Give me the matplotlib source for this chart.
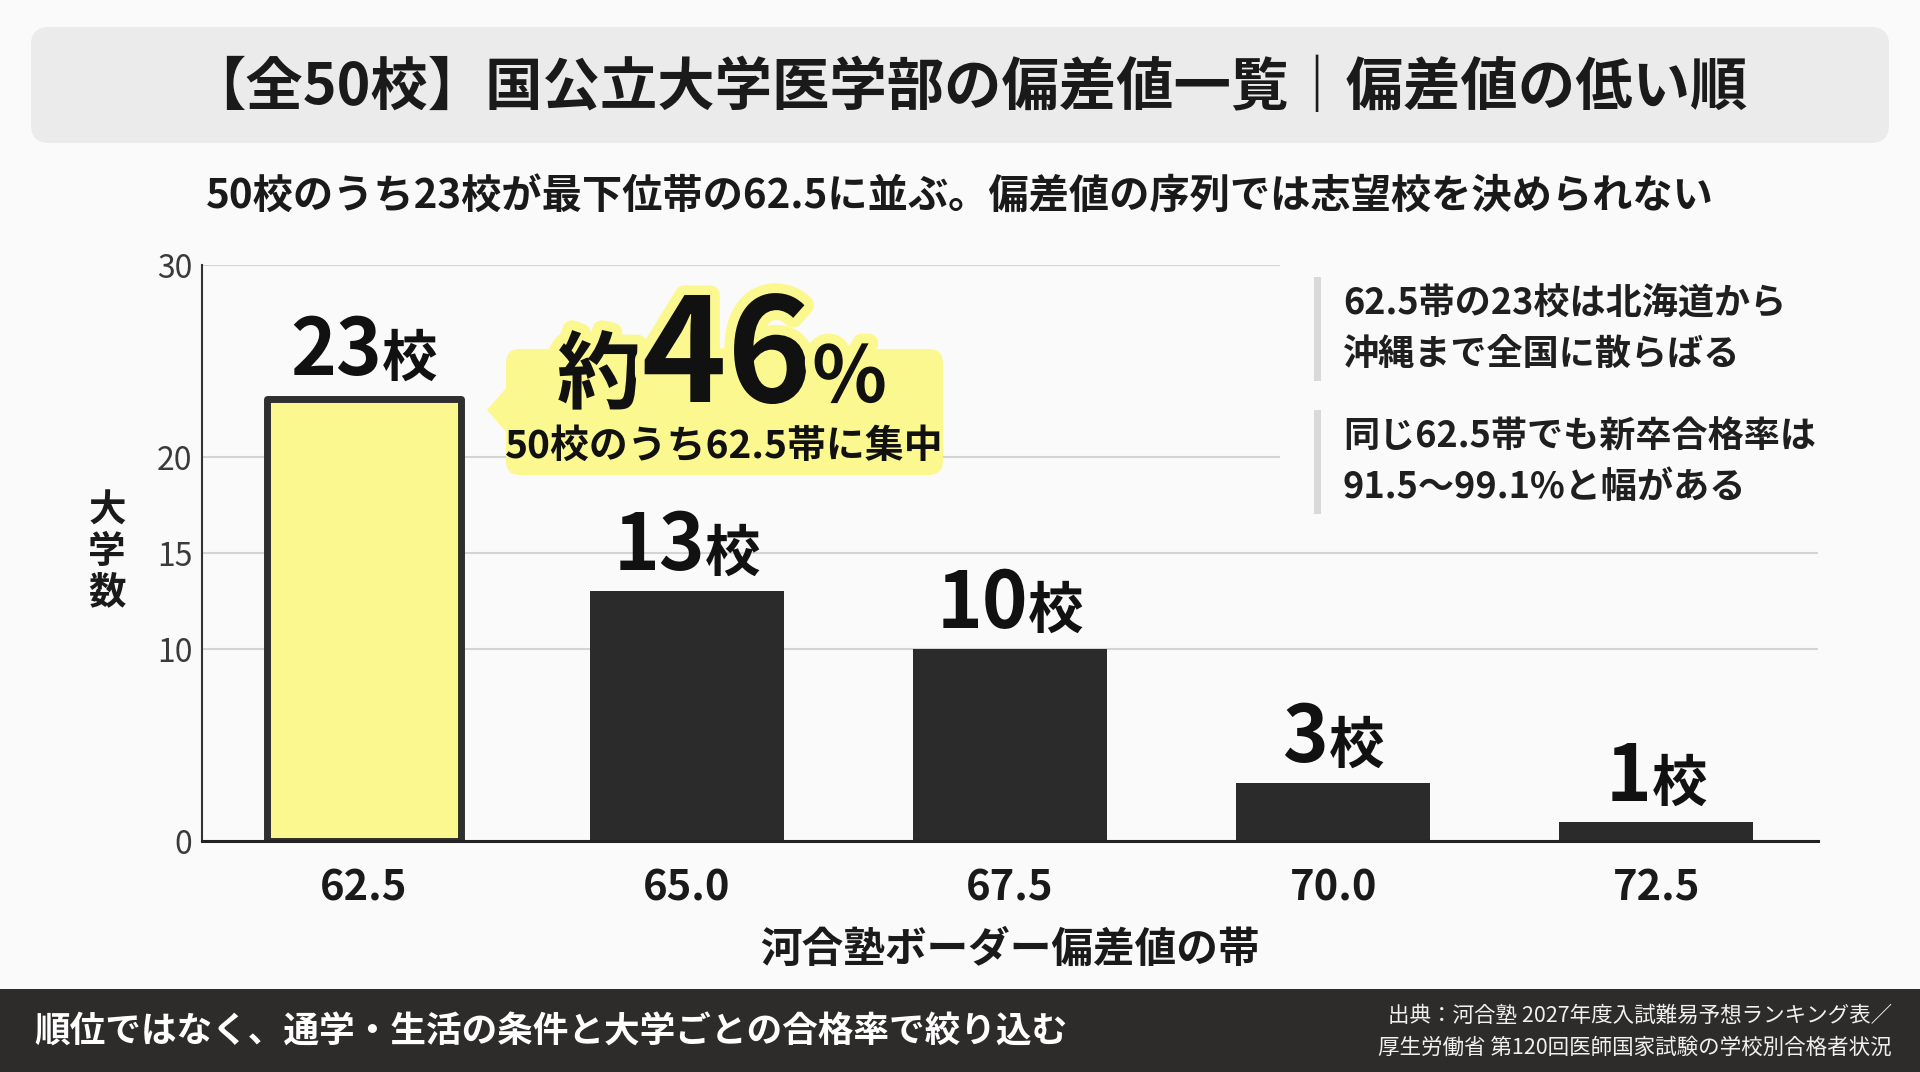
import matplotlib
matplotlib.use('Agg')
import matplotlib.pyplot as plt
import matplotlib.patheffects as pe
from matplotlib.patches import FancyBboxPatch, Rectangle, Polygon
from matplotlib.transforms import IdentityTransform

plt.rcParams['font.family'] = ['Noto Sans CJK JP', 'DejaVu Sans']

# data
bands = ['62.5', '65.0', '67.5', '70.0', '72.5']
counts = [23, 13, 10, 3, 1]
yticks = [0, 10, 15, 20, 30]
unit = '校'

title = '【全50校】国公立大学医学部の偏差値一覧｜偏差値の低い順'
subtitle = '50校のうち23校が最下位帯の62.5に並ぶ。偏差値の序列では志望校を決められない'
xlabel = '河合塾ボーダー偏差値の帯'
ylabel = '大\n学\n数'
share_parts = ['約', '46', '%']
share_note = '50校のうち62.5帯に集中'
notes = ['62.5帯の23校は北海道から\n沖縄まで全国に散らばる',
         '同じ62.5帯でも新卒合格率は\n91.5〜99.1%と幅がある']
footer = '順位ではなく、通学・生活の条件と大学ごとの合格率で絞り込む'
source = '出典：河合塾 2027年度入試難易予想ランキング表／\n厚生労働省 第120回医師国家試験の学校別合格者状況'

W, H = 1920, 1072
YELLOW = '#fcf890'
DARK = '#2b2b2b'
BG = '#fafafa'
ID = IdentityTransform()

fig = plt.figure(figsize=(W / 100, H / 100), dpi=100, facecolor=BG)


def P(x, y):
    # pixel coords from top-left -> display coords
    return x, H - y


def text_run(x, y, parts, **kw):
    # parts drawn side by side on one baseline, centred on x (display coords)
    r = fig.canvas.get_renderer()
    objs = []
    for s, size in parts:
        t = fig.text(0, 0, s, fontsize=size, ha='left', va='baseline',
                     transform=ID, **kw)
        objs.append((t, t.get_window_extent(r).width))
    x0 = x - sum(w for _, w in objs) / 2
    for t, w in objs:
        t.set_position((x0, y))
        x0 += w
    return objs


# title box
fig.patches.append(FancyBboxPatch(P(31, 143), 1858, 116, boxstyle='round,pad=0,rounding_size=18',
                                  transform=ID, facecolor='#ebebeb', edgecolor='none'))
fig.text(*P(968, 88), title, transform=ID, ha='center', va='center',
         fontsize=41.3, weight='bold', color='#1a1a1a')
fig.text(*P(960, 196), subtitle, transform=ID, ha='center', va='center',
         fontsize=29, weight='bold', color='#1a1a1a')

# axes
ax = fig.add_axes([202 / W, 1 - 841 / H, (1818 - 202) / W, (841 - 265) / H])
ax.set_facecolor('none')
x = list(range(len(bands)))
colors = [YELLOW] + [DARK] * (len(bands) - 1)
bars = ax.bar(x, counts, width=0.6, color=colors, zorder=3)
bars[0].set_edgecolor('#2f2f2f')
bars[0].set_linewidth(5)
bars[0].set_joinstyle('round')

ax.set_xlim(-0.5, len(bands) - 0.5)
ax.set_ylim(0, 30)
ax.set_yticks(yticks)
ax.set_yticklabels([str(v) for v in yticks], fontsize=23, color='#3a3a3a')
ax.set_xticks(x)
ax.set_xticklabels(bands, fontsize=30, weight='bold', color='#1a1a1a')
ax.tick_params(axis='x', length=0, pad=19)
ax.tick_params(axis='y', length=0, pad=7)
ax.grid(axis='y', color='#d4d4d4', linewidth=1.5, zorder=0)
for s in ['top', 'right']:
    ax.spines[s].set_visible(False)
ax.spines['left'].set_color('#333333')
ax.spines['left'].set_linewidth(1.5)
ax.spines['bottom'].set_color('#222222')
ax.spines['bottom'].set_linewidth(2.2)
ax.spines['bottom'].set_zorder(4)

ax.set_xlabel(xlabel, fontsize=30, weight='bold', color='#1a1a1a', labelpad=14)
fig.text(*P(107, 551), ylabel, transform=ID, ha='center', va='center',
         fontsize=27, weight='bold', color='#1a1a1a', linespacing=1.05)

# bar value labels
for i, v in enumerate(counts):
    bx, by = ax.transData.transform((i, v))
    off = 24 if i == 0 else 21
    text_run(bx, by + off, [(str(v), 56), (unit, 40)], weight='bold', color='#111111')

# callout bubble
fig.patches.append(FancyBboxPatch(P(506, 475), 437, 126, boxstyle='round,pad=0,rounding_size=14',
                                  transform=ID, facecolor=YELLOW, edgecolor='none', zorder=2))
fig.patches.append(Polygon([P(487, 410), P(508, 386), P(508, 434)], closed=True,
                           transform=ID, facecolor=YELLOW, edgecolor='none', zorder=2))
halo = [pe.withStroke(linewidth=14, foreground=YELLOW)]
objs = text_run(*P(722, 402), [(share_parts[0], 61), (share_parts[1], 104), (share_parts[2], 56)],
                weight='bold', color='#111111')
for t, _ in objs:
    t.set_path_effects(halo)
    t.set_zorder(3)
fig.text(*P(724, 446), share_note, transform=ID, ha='center', va='center',
         fontsize=28, weight='bold', color='#111111', zorder=3)

# side notes (box hides the grid lines behind them)
fig.patches.append(Rectangle(P(1280, 525), 560, 275, transform=ID, facecolor=BG,
                             edgecolor='none', zorder=1))
for k, (note, top) in enumerate(zip(notes, [277, 410])):
    fig.patches.append(Rectangle(P(1314, top + 104), 7, 104, transform=ID,
                                 facecolor='#d9d9d9', edgecolor='none', zorder=2))
    fig.text(*P(1343, top + 52), note, transform=ID, ha='left', va='center',
             fontsize=26, weight='bold', color='#1f1f1f', linespacing=1.45, zorder=3)

# footer band
fig.patches.append(Rectangle(P(0, H), W, 83, transform=ID, facecolor='#2e2b2b', edgecolor='none'))
fig.text(*P(34, 1031), footer, transform=ID, ha='left', va='center',
         fontsize=25.7, weight='bold', color='white')
fig.text(*P(1892, 1032), source, transform=ID, ha='right', va='center',
         fontsize=15.5, color='#f0f0f0', linespacing=1.6)

fig.savefig('out.png', dpi=100, facecolor=fig.get_facecolor())
